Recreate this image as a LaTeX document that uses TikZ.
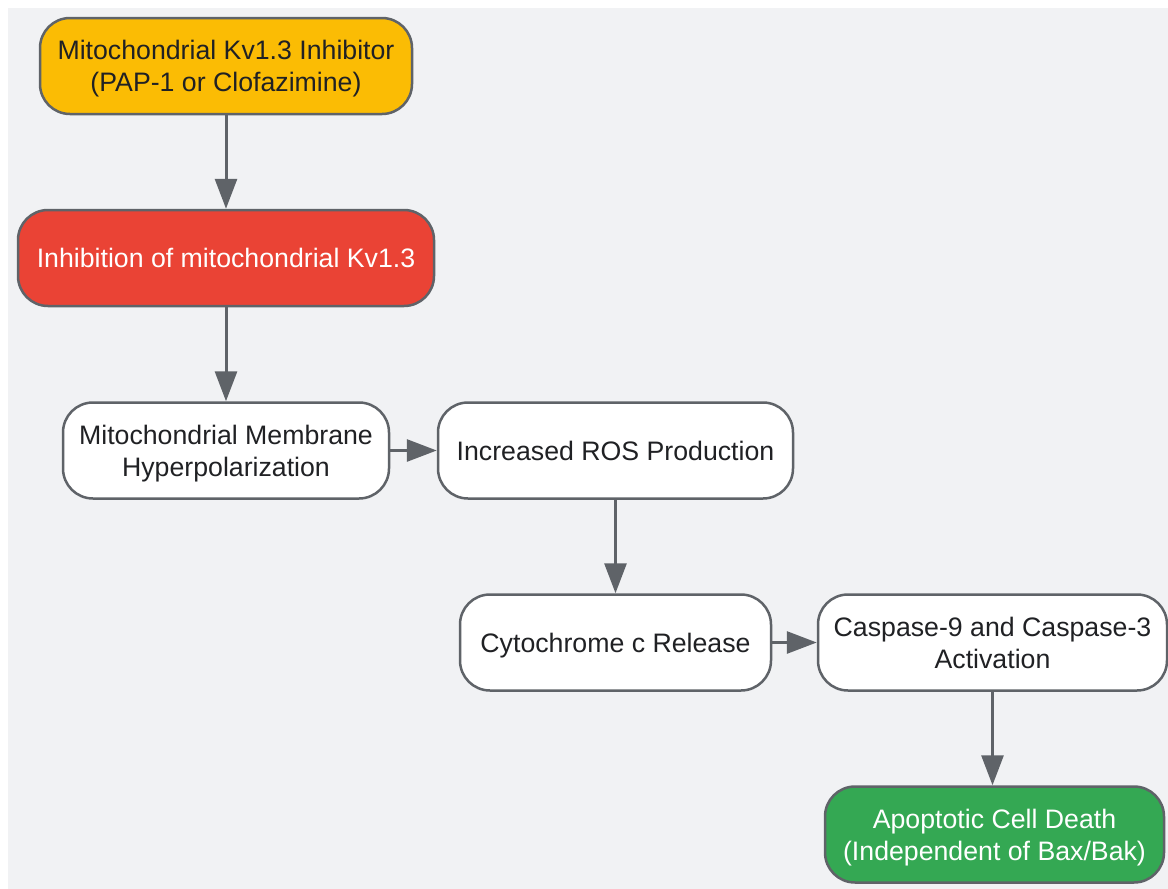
\documentclass[tikz,border=0pt]{standalone}
\usepackage{fontspec}
\setmainfont{Liberation Sans}
\usetikzlibrary{arrows.meta}
\definecolor{bgGrey}{HTML}{F1F2F4}
\definecolor{edgeGrey}{HTML}{5F6368}
\definecolor{txtDark}{HTML}{202124}
\definecolor{inhYellow}{HTML}{FBBC04}
\definecolor{inhRed}{HTML}{EA4335}
\definecolor{deathGreen}{HTML}{34A853}
\begin{document}
\begin{tikzpicture}[x=1pt,y=-1pt,
    stepbox/.style={draw=edgeGrey,line width=2.5pt,rounded corners=30pt,fill=white,
      text=txtDark,align=center,minimum height=96pt,inner sep=0pt,text depth=0pt,
      font=\fontsize{26.7}{32}\selectfont},
    flow/.style={draw=edgeGrey,line width=3pt,-{Triangle[length=30pt,width=22pt]}}]
    \useasboundingbox (0,0) rectangle (1168,889);
    \fill [bgGrey](8,8) rectangle (1168,889);
    % boxes
    \node [stepbox,fill=inhYellow,minimum width=372pt] (inhibitor) at (226,66)
        {Mitochondrial Kv1.3 Inhibitor\\(PAP-1 or Clofazimine)};
    \node [stepbox,fill=inhRed,text=white,minimum width=416pt] (inhibition) at (226,258)
        {Inhibition of mitochondrial Kv1.3};
    \node [stepbox,minimum width=326pt] (hyperpol) at (226,450.5)
        {Mitochondrial Membrane\\Hyperpolarization};
    \node [stepbox,minimum width=355pt] (ros) at (615.5,450.5)
        {Increased ROS Production};
    \node [stepbox,minimum width=311pt] (cytc) at (615.5,642.5)
        {Cytochrome c Release};
    \node [stepbox,minimum width=349pt] (caspase) at (992.5,642.5)
        {Caspase-9 and Caspase-3\\Activation};
    \node [stepbox,fill=deathGreen,text=white,minimum width=339pt] (death) at (994.5,834.5)
        {Apoptotic Cell Death\\(Independent of Bax/Bak)};
    % arrows
    \draw [flow](inhibitor.south)--(inhibition.north);
    \draw [flow](inhibition.south)--(hyperpol.north);
    \draw [flow](hyperpol.east)--(ros.west);
    \draw [flow](ros.south)--(cytc.north);
    \draw [flow](cytc.east)--(caspase.west);
    \draw [flow](caspase.south)--(caspase.south |- death.north);
\end{tikzpicture}
\end{document}
